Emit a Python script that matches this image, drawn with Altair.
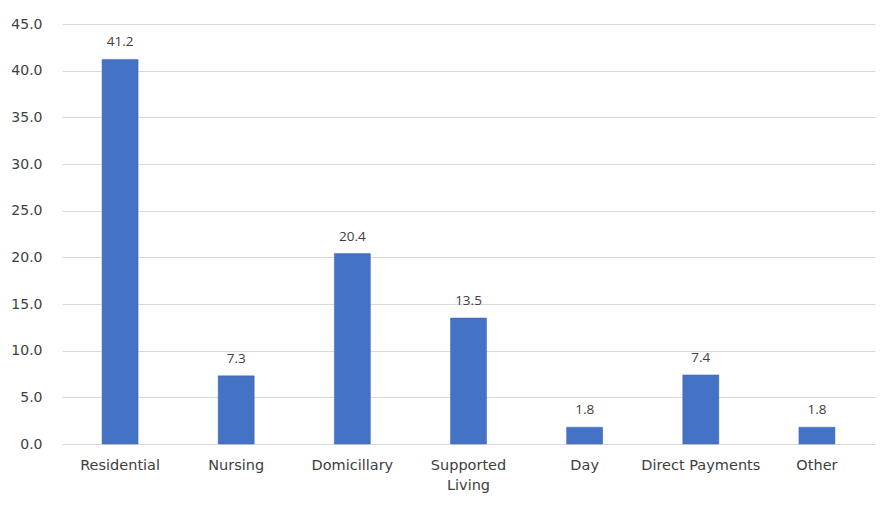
import altair as alt
import pandas as pd

categories = ["Residential", "Nursing", "Domicillary", "Supported Living", "Day", "Direct Payments", "Other"]
values = [41.2, 7.3, 20.4, 13.5, 1.8, 7.4, 1.8]
y_ticks = [0, 5, 10, 15, 20, 25, 30, 35, 40, 45]

df = pd.DataFrame({"category": categories, "value": values})

FONT = "Open Sans"
AXFONT = "DejaVu Sans"
TXT = "#404040"

x = alt.X("category:N", sort=categories, title=None,
          scale=alt.Scale(paddingInner=0.69, paddingOuter=0.345),
          axis=alt.Axis(labelAngle=0, domain=False, ticks=False, labelPadding=14,
                        labelFont=AXFONT, labelFontSize=14.5, labelColor=TXT,
                        labelLimit=200, labelLineHeight=20,
                        labelExpr="datum.value == 'Supported Living' ? ['Supported', 'Living'] : datum.value"))
y = alt.Y("value:Q", title=None,
          scale=alt.Scale(domain=[0, 45], nice=False),
          axis=alt.Axis(values=y_ticks, format=".1f", domain=False, ticks=False,
                        labelPadding=20, labelFont=AXFONT, labelFontSize=14, labelColor=TXT,
                        gridColor="#d9d9d9", gridWidth=1))

bars = alt.Chart(df).mark_bar(color="#4472C4", stroke="#3a64b0", strokeWidth=0.5).encode(x=x, y=y)
labels = alt.Chart(df).mark_text(dy=-10, baseline="bottom", font=FONT, fontSize=13.5, color=TXT).encode(
    x=alt.X("category:N", sort=categories), y="value:Q", text=alt.Text("value:Q", format=".1f"))

chart = (bars + labels).properties(
    width=813, height=420,
    autosize=alt.AutoSizeParams(type="none"),
    padding={"left": 54, "top": 16, "right": 13, "bottom": 50},
).configure(background="white").configure_view(stroke=None)

chart.save("out.html", embed_options={"renderer": "svg", "actions": False})
